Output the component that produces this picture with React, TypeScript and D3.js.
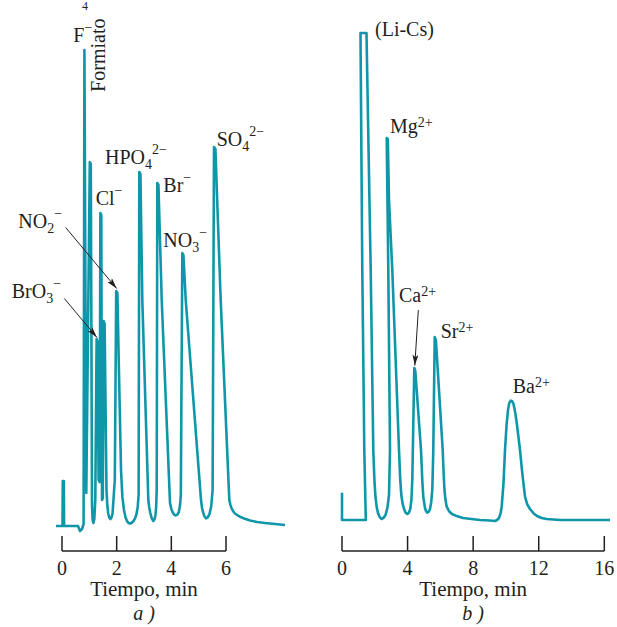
import React from "react";
import * as d3 from "d3";

// Chromatogram a) – anions: [time (min), signal (% of full scale)]
const anionTrace: [number, number][] = [
  [-0.22, 0], [0.018, 0], [0.029, 9.45], [0.066, 9.45], [0.077, 0], [0.585, 0],
  [0.659, -1.05], [0.732, -0.63], [0.79, 0.42], [0.82, 100], [0.889, 6.93],
  [1.017, 76.47], [1.054, 76.05], [1.098, 4.41], [1.12, 1.26], [1.149, 0.63],
  [1.182, 1.47], [1.218, 5.46], [1.266, 39.29], [1.303, 38.66], [1.339, 9.66],
  [1.376, 9.24], [1.405, 65.76], [1.438, 65.34], [1.464, 5.46], [1.493, 5.88],
  [1.522, 43.07], [1.559, 42.44], [1.628, 7.56], [1.66, 4.2], [1.694, 2.52], [1.735, 1.7], [1.775, 1.47],
  [1.81, 1.75], [1.848, 2.52], [1.932, 9.66], [1.983, 49.37], [2.027, 48.95], [2.075, 34.87],
  [2.159, 11.76], [2.21, 6.0], [2.268, 3.36], [2.32, 1.9], [2.378, 1.05], [2.43, 0.65], [2.488, 0.53], [2.55, 0.65], [2.616, 1.05],
  [2.68, 1.7], [2.726, 2.52], [2.77, 4.0], [2.803, 6.51], [2.828, 74.37], [2.869, 73.95], [2.938, 47.48],
  [3.158, 5.46], [3.195, 3.8], [3.231, 2.73], [3.285, 1.6], [3.341, 1.05], [3.385, 1.4], [3.421, 2.31], [3.445, 4.0], [3.465, 7.56],
  [3.487, 72.06], [3.528, 71.64], [3.648, 47.48], [3.952, 4.83], [4.0, 3.6], [4.043, 2.94],
  [4.1, 2.4], [4.16, 2.21], [4.22, 2.4], [4.274, 2.94], [4.315, 4.2], [4.347, 6.51], [4.402, 57.35], [4.442, 56.93],
  [4.526, 47.48], [5.086, 5.46], [5.12, 3.9], [5.159, 2.94], [5.21, 2.05], [5.268, 1.62], [5.33, 1.8], [5.396, 2.52],
  [5.46, 4.2], [5.51, 7.56], [5.561, 79.62], [5.612, 79.2], [5.806, 47.48], [6.121, 5.46],
  [6.16, 4.5], [6.201, 3.78], [6.26, 3.1], [6.329, 2.63], [6.42, 2.25], [6.512, 1.95], [6.69, 1.5], [6.878, 1.16], [7.14, 0.85], [7.427, 0.63],
  [8.159, 0.21],
];

// Chromatogram b) – cations
const cationTrace: [number, number][] = [
  [0, 5.61], [0, 0], [1.452, 0], [1.36, 14.37], [1.238, 51.33], [1.128, 100],
  [1.494, 100], [1.751, 51.33], [1.909, 14.37], [1.98, 8.0], [2.043, 4.72], [2.12, 2.6], [2.196, 1.44],
  [2.3, 0.6], [2.422, 0.21], [2.54, 0.45], [2.654, 1.03], [2.77, 2.5], [2.867, 5.13], [2.928, 14.37], [2.824, 51.33],
  [2.727, 78.44], [2.794, 78.23], [2.867, 65.71], [3.068, 51.33], [3.477, 14.37], [3.55, 8.5],
  [3.617, 5.13], [3.7, 3.3], [3.782, 2.26], [3.88, 1.5], [3.983, 1.23], [4.08, 1.5], [4.166, 2.26], [4.235, 4.2], [4.288, 8.21],
  [4.41, 31.21], [4.471, 30.6], [4.819, 14.37], [4.9, 8.0], [4.959, 4.72], [5.063, 2.46], [5.13, 1.8],
  [5.203, 1.5], [5.29, 1.7], [5.368, 2.26], [5.44, 3.6], [5.508, 6.16], [5.569, 14.37], [5.655, 37.58],
  [5.728, 36.96], [6.143, 14.37], [6.2, 9.5], [6.252, 6.16], [6.31, 4.2], [6.387, 2.73], [6.53, 1.8], [6.71, 1.23],
  [7.0, 0.8], [7.381, 0.41], [8.418, 0], [9.0, -0.1], [9.333, -0.21], [9.46, 0], [9.577, 0.41], [9.67, 1.3], [9.741, 2.73],
  [9.85, 7.5], [9.943, 14.37], [10.04, 19.6], [10.126, 22.59], [10.2, 24.0], [10.29, 24.5], [10.38, 24.4], [10.461, 23.82], [10.57, 22.0], [10.675, 19.51],
  [10.858, 14.37], [11.0, 9.5], [11.163, 4.78], [11.3, 3.2], [11.468, 2.26], [11.68, 1.4], [11.895, 0.82], [12.18, 0.4], [12.486, 0.21],
  [13.298, 0], [16.347, 0],
];

const anionTicks = [0, 2, 4, 6];
const cationTicks = [0, 4, 8, 12, 16];
const xTitle = "Tiempo, min";

type Part = { s: string; k?: "sub" | "sup" | "supc" };
type Lab = { parts: Part[]; t: number; v: number };

const anionLabels: Lab[] = [
  { parts: [{ s: "F" }, { s: "−", k: "sup" }], t: 0.413, v: 101.7 },
  { parts: [{ s: "Cl" }, { s: "−", k: "sup" }], t: 1.233, v: 67.4 },
  { parts: [{ s: "NO" }, { s: "2", k: "sub" }, { s: "−", k: "sup" }], t: -1.599, v: 62.7 },
  { parts: [{ s: "BrO" }, { s: "3", k: "sub" }, { s: "−", k: "sup" }], t: -1.84, v: 47.8 },
  { parts: [{ s: "HPO" }, { s: "4", k: "sub" }, { s: "2−", k: "sup" }], t: 1.573, v: 76.05 },
  { parts: [{ s: "Br" }, { s: "−", k: "sup" }], t: 3.707, v: 70.2 },
  { parts: [{ s: "NO" }, { s: "3", k: "sub" }, { s: "−", k: "sup" }], t: 3.707, v: 58.7 },
  { parts: [{ s: "SO" }, { s: "4", k: "sub" }, { s: "2−", k: "sup" }], t: 5.66, v: 79.8 },
];
const cationLabels: Lab[] = [
  { parts: [{ s: "(Li-Cs)" }], t: 2.013, v: 99.4 },
  { parts: [{ s: "Mg" }, { s: "2+", k: "supc" }], t: 2.929, v: 79.5 },
  { parts: [{ s: "Ca" }, { s: "2+", k: "supc" }], t: 3.478, v: 44.7 },
  { parts: [{ s: "Sr" }, { s: "2+", k: "supc" }], t: 6.022, v: 37.3 },
  { parts: [{ s: "Ba" }, { s: "2+", k: "supc" }], t: 10.415, v: 26.1 },
];
// arrows: [t0, v0, t1, v1]
const anionArrows: [number, number, number, number][] = [
  [0.135, 62.7, 2.0, 49.9],
  [0.084, 47.8, 1.28, 39.6],
];
const cationArrows: [number, number, number, number][] = [[4.655, 43.1, 4.44, 31.7]];

const INK = "#231f20";
const TEAL = "#0f97a9";
const FONT = "'Liberation Serif', 'Times New Roman', serif";

function Rich({ x, y, parts, size = 20 }: { x: number; y: number; parts: Part[]; size?: number }) {
  return (
    <text x={x} y={y} fontSize={size} fill={INK} fontFamily={FONT}>
      {parts.map((p, i) => {
        const off = p.k === "sub" ? 5 : p.k === "sup" ? -10 : p.k === "supc" ? -6 : 0;
        return (
          <tspan key={i} y={y + off} fontSize={p.k ? 14 : size}>
            {p.s}
          </tspan>
        );
      })}
    </text>
  );
}

function Panel({
  data, ticks, x, y, labels, arrows, axisY, caption,
}: {
  data: [number, number][]; ticks: number[];
  x: d3.ScaleLinear<number, number>; y: d3.ScaleLinear<number, number>;
  labels: Lab[]; arrows: [number, number, number, number][]; axisY: number; caption: string;
}) {
  const line = d3.line<[number, number]>()
    .x((d) => x(d[0]))
    .y((d) => y(d[1]))
    .curve(d3.curveLinear);
  const [r0, r1] = x.range();
  const mid = (x(ticks[0]) + x(ticks[ticks.length - 1])) / 2;
  return (
    <g>
      <path d={line(data) || ""} fill="none" stroke={TEAL} strokeWidth={2.6} strokeLinejoin="round" />
      {labels.map((l, i) => (
        <Rich key={i} x={x(l.t)} y={y(l.v)} parts={l.parts} />
      ))}
      {arrows.map((a, i) => (
        <line key={i} x1={x(a[0])} y1={y(a[1])} x2={x(a[2])} y2={y(a[3])}
          stroke={INK} strokeWidth={1} markerEnd="url(#arrow)" />
      ))}
      <line x1={r0} x2={r1} y1={axisY} y2={axisY} stroke={INK} strokeWidth={1.5} />
      {ticks.map((t) => (
        <g key={t}>
          <line x1={x(t)} x2={x(t)} y1={axisY} y2={axisY - 15} stroke={INK} strokeWidth={1.5} />
          <text x={x(t)} y={axisY + 24} textAnchor="middle" fontSize={20} fill={INK} fontFamily={FONT}>
            {t}
          </text>
        </g>
      ))}
      <text x={mid} y={axisY + 45} textAnchor="middle" fontSize={21} fill={INK} fontFamily={FONT}>
        {xTitle}
      </text>
      <text x={mid} y={axisY + 69} textAnchor="middle" fontSize={20} fill={INK} fontFamily={FONT} fontStyle="italic">
        {caption}
      </text>
    </g>
  );
}

export default function App() {
  const xA = d3.scaleLinear().domain([0, 6]).range([62, 226]);
  const yA = d3.scaleLinear().domain([0, 100]).range([526, 50]);
  const xC = d3.scaleLinear().domain([0, 16]).range([342, 604.3]);
  const yC = d3.scaleLinear().domain([0, 100]).range([520, 33]);
  return (
    <svg width={617} height={627} style={{ position: "absolute", left: 0, top: 0, background: "#fff" }}>
      <defs>
        <marker id="arrow" markerUnits="userSpaceOnUse" markerWidth={11} markerHeight={6}
          refX={11} refY={3} orient="auto">
          <path d="M0,0 L11,3 L0,6 L2.5,3 z" fill={INK} />
        </marker>
      </defs>
      <text x={82} y={10} fontSize={12} fill={INK} fontFamily={FONT}>4</text>
      <text transform={`translate(${xA(1.555)},${yA(91.2)}) rotate(-90)`} fontSize={20} fill={INK} fontFamily={FONT}>
        Formiato
      </text>
      <Panel data={anionTrace} ticks={anionTicks} x={xA} y={yA} labels={anionLabels}
        arrows={anionArrows} axisY={551} caption="a )" />
      <Panel data={cationTrace} ticks={cationTicks} x={xC} y={yC} labels={cationLabels}
        arrows={cationArrows} axisY={551} caption="b )" />
    </svg>
  );
}
